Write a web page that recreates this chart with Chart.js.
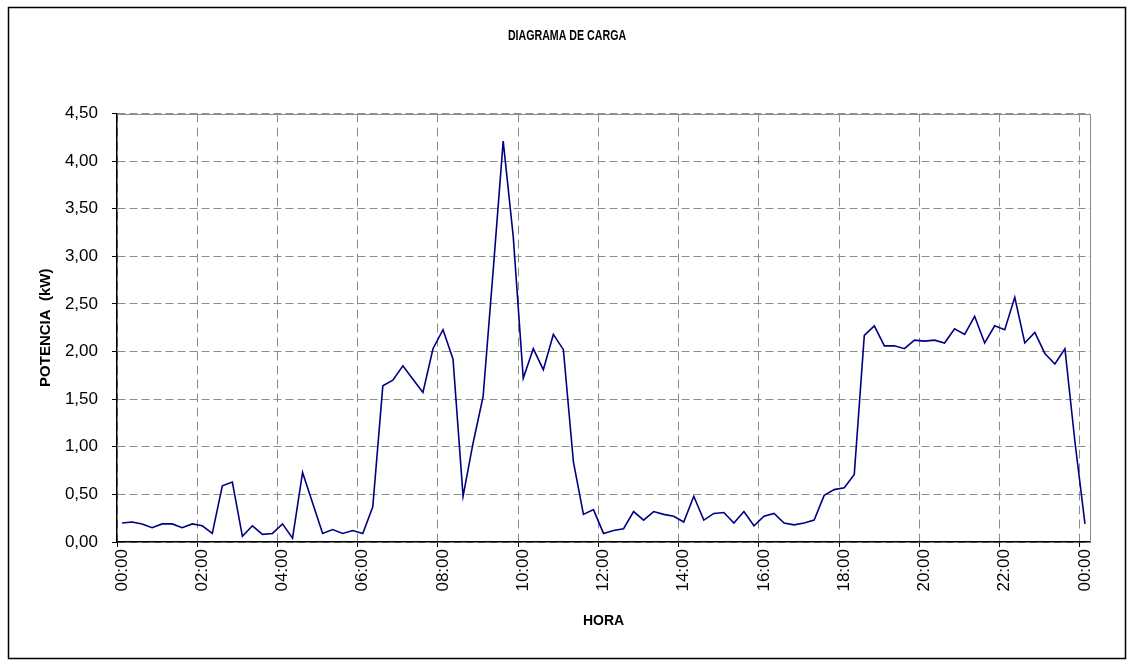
<!DOCTYPE html>
<html>
<head>
<meta charset="utf-8">
<title>Diagrama de carga</title>
<script src="https://cdn.jsdelivr.net/npm/chart.js@4.4.1/dist/chart.umd.min.js"></script>
<style>
  html, body { margin: 0; padding: 0; background: #fff; }
  canvas { display: block; }
</style>
</head>
<body>
<canvas id="myChart" width="1134" height="666"></canvas>
<script>
/* potencia leida cada 15 minutos, de 00:00 a 24:00 (kW) */
const potencia = [
  0.20, 0.21, 0.19, 0.15, 0.19, 0.19, 0.15, 0.19,
  0.17, 0.09, 0.59, 0.63, 0.06, 0.17, 0.08, 0.09,
  0.19, 0.04, 0.73, 0.41, 0.09, 0.13, 0.09, 0.12,
  0.09, 0.37, 1.64, 1.70, 1.85, 1.71, 1.57, 2.03,
  2.23, 1.92, 0.48, 1.04, 1.53, 2.85, 4.21, 3.21,
  1.72, 2.03, 1.81, 2.18, 2.02, 0.84, 0.29, 0.34,
  0.09, 0.12, 0.14, 0.32, 0.23, 0.32, 0.29, 0.27,
  0.21, 0.48, 0.23, 0.30, 0.31, 0.20, 0.32, 0.17,
  0.27, 0.30, 0.20, 0.18, 0.20, 0.23, 0.49, 0.55,
  0.57, 0.71, 2.17, 2.27, 2.06, 2.06, 2.03, 2.12,
  2.11, 2.12, 2.09, 2.24, 2.18, 2.37, 2.09, 2.27,
  2.23, 2.57, 2.09, 2.20, 1.98, 1.87, 2.03, 1.05,
  0.19
];

/* etiquetas de hora, una por lectura */
const horas = [];
for (let i = 0; i < potencia.length; i++) {
  const min = (i * 15) % (24 * 60);
  const hh = String(Math.floor(min / 60)).padStart(2, '0');
  const mm = String(min % 60).padStart(2, '0');
  horas.push(hh + ':' + mm);
}

const titulo = 'DIAGRAMA DE CARGA';
const yTicks = { min: 0, max: 4.5, step: 0.5 };
const labelEvery = 8; // una etiqueta cada 2 horas

const app = {
  /* titulo, marco exterior y borde gris del area de trazado */
  framePlugin: {
    id: 'frame',
    beforeDatasetsDraw: function (chart) {
      const ctx = chart.ctx;
      const a = chart.chartArea;
      ctx.save();
      ctx.strokeStyle = '#8c8c8c';
      ctx.lineWidth = 1;
      ctx.beginPath();
      ctx.moveTo(a.left, Math.round(a.top) + 0.5);
      ctx.lineTo(Math.round(a.right) + 0.5, Math.round(a.top) + 0.5);
      ctx.lineTo(Math.round(a.right) + 0.5, a.bottom);
      ctx.stroke();
      ctx.restore();
    },
    afterDraw: function (chart) {
      const ctx = chart.ctx;
      ctx.save();
      ctx.strokeStyle = '#000';
      ctx.lineWidth = 1.5;
      ctx.strokeRect(8.5, 7.5, 1117, 651);
      ctx.restore();

      // titulo algo estrecho, como en la hoja original
      ctx.save();
      ctx.translate(chart.width / 2, 36);
      ctx.scale(0.76, 1);
      ctx.fillStyle = '#000';
      ctx.font = "bold 14px 'Liberation Sans', Arial, sans-serif";
      ctx.textAlign = 'center';
      ctx.textBaseline = 'middle';
      ctx.fillText(titulo, 0, 0);
      ctx.restore();
    }
  },

  createChart: function () {
    const ctx = document.getElementById('myChart').getContext('2d');
    const family = "'Liberation Sans', Arial, sans-serif";

    Chart.defaults.font.family = family;
    Chart.defaults.color = '#000';

    const chart = new Chart(ctx, {
      type: 'line',
      data: {
        labels: horas,
        datasets: [{
          label: 'Potencia',
          data: potencia,
          borderColor: '#000080',
          borderWidth: 1.6,
          pointRadius: 0,
          tension: 0,
          fill: false
        }]
      },
      options: {
        responsive: false,
        animation: false,
        devicePixelRatio: 1,
        layout: { padding: { left: 0, right: 44, top: 113.5, bottom: 0 } },
        plugins: {
          legend: { display: false },
          tooltip: { enabled: false },
          title: { display: false }
        },
        scales: {
          x: {
            type: 'category',
            offset: true,
            afterFit: function (scale) { scale.height = 124; },
            grid: {
              offset: true,
              drawOnChartArea: true,
              tickLength: 5,
              color: function (c) { return c.index % labelEvery === 0 ? '#8c8c8c' : 'transparent'; },
              tickColor: function (c) { return c.index % labelEvery === 0 ? '#000' : 'transparent'; },
              tickBorderDash: []
            },
            border: { display: true, color: '#000', width: 1.5, dash: [9, 5] },
            ticks: {
              autoSkip: false,
              maxRotation: 90,
              minRotation: 90,
              padding: 2,
              font: { size: 17 },
              callback: function (val, i) { return i % labelEvery === 0 ? horas[i] : ''; }
            },
            title: {
              display: true,
              text: 'HORA',
              font: { size: 14, weight: 'bold' },
              padding: { top: 0, bottom: 36 }
            }
          },
          y: {
            min: yTicks.min,
            max: yTicks.max,
            afterFit: function (scale) { scale.width = 117; },
            grid: {
              color: '#8c8c8c',
              tickLength: 5,
              tickColor: '#000',
              tickBorderDash: []
            },
            border: { display: true, color: '#000', width: 1.5, dash: [8, 4] },
            ticks: {
              stepSize: yTicks.step,
              padding: 14,
              font: { size: 17 },
              callback: function (v) { return v.toFixed(2).replace('.', ','); }
            },
            title: {
              display: true,
              text: 'POTENCIA  (kW)',
              font: { size: 15, weight: 'bold' },
              padding: { top: 37, bottom: 0 }
            }
          }
        }
      },
      plugins: [this.framePlugin]
    });
    return chart;
  },

  init: function () {
    const thisApp = this;
    thisApp.createChart();
  }
};

app.init();
</script>
</body>
</html>
